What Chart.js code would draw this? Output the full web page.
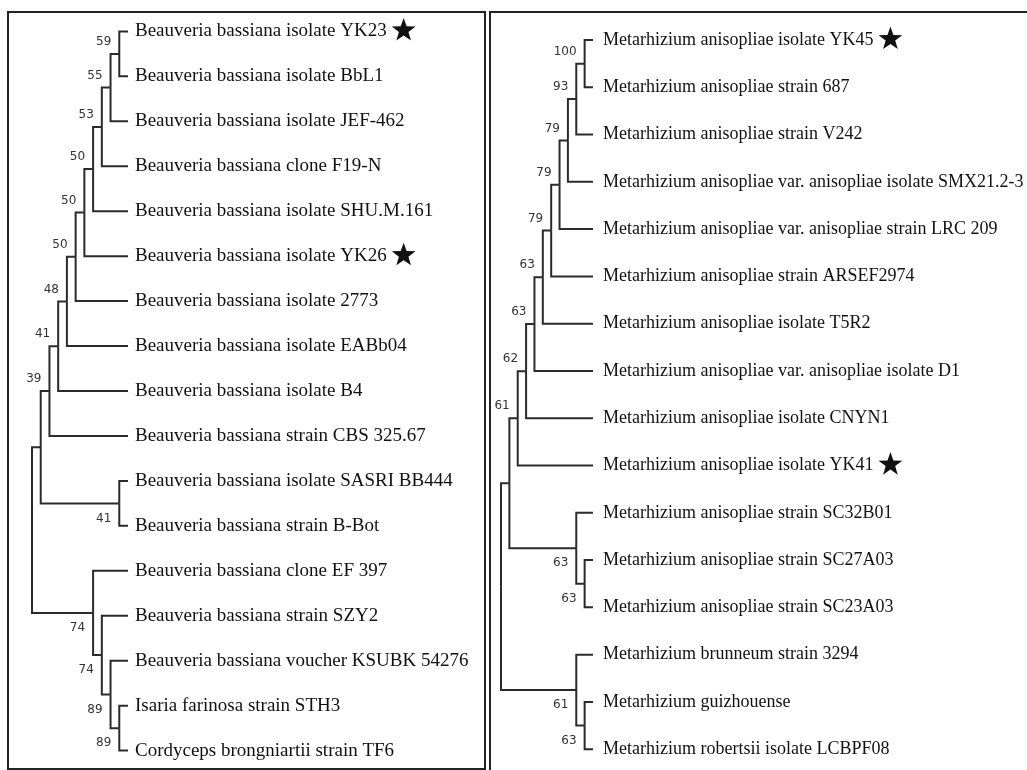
<!doctype html>
<html lang="en">
<head>
<meta charset="utf-8">
<script src="https://cdn.jsdelivr.net/npm/chart.js"></script>
<style>
  body { margin: 0; background: #fff; overflow: hidden; }
  .panel { position: absolute; box-sizing: border-box; border: 2px solid #222; }
  canvas { position: absolute; }
</style>
</head>
<body>
<div class="panel" style="left:7px;top:11px;width:479px;height:759px"></div>
<div class="panel" style="left:489px;top:11px;width:600px;height:800px"></div>
<canvas id="leftTree" width="475" height="756" style="left:9px;top:13px"></canvas>
<canvas id="rightTree" width="536" height="757" style="left:491px;top:13px"></canvas>

<script>
  // taxa, top to bottom
  const beauveriaLeaves = [
    'Beauveria bassiana isolate YK23',
    'Beauveria bassiana isolate BbL1',
    'Beauveria bassiana isolate JEF-462',
    'Beauveria bassiana clone F19-N',
    'Beauveria bassiana isolate SHU.M.161',
    'Beauveria bassiana isolate YK26',
    'Beauveria bassiana isolate 2773',
    'Beauveria bassiana isolate EABb04',
    'Beauveria bassiana isolate B4',
    'Beauveria bassiana strain CBS 325.67',
    'Beauveria bassiana isolate SASRI BB444',
    'Beauveria bassiana strain B-Bot',
    'Beauveria bassiana clone EF 397',
    'Beauveria bassiana strain SZY2',
    'Beauveria bassiana voucher KSUBK 54276',
    'Isaria farinosa strain STH3',
    'Cordyceps brongniartii strain TF6'
  ];
  const beauveriaStarred = [0, 5];
  // topology with bootstrap values (leaf = index into the list above)
  const beauveriaNewick = '(((((((((((0,1)59,2)55,3)53,4)50,5)50,6)50,7)48,8)41,9)39,(10,11)41),(12,(13,(14,(15,16)89)89)74)74)';

  const metarhiziumLeaves = [
    'Metarhizium anisopliae isolate YK45',
    'Metarhizium anisopliae strain 687',
    'Metarhizium anisopliae strain V242',
    'Metarhizium anisopliae var. anisopliae isolate SMX21.2-3',
    'Metarhizium anisopliae var. anisopliae strain LRC 209',
    'Metarhizium anisopliae strain ARSEF2974',
    'Metarhizium anisopliae isolate T5R2',
    'Metarhizium anisopliae var. anisopliae isolate D1',
    'Metarhizium anisopliae isolate CNYN1',
    'Metarhizium anisopliae isolate YK41',
    'Metarhizium anisopliae strain SC32B01',
    'Metarhizium anisopliae strain SC27A03',
    'Metarhizium anisopliae strain SC23A03',
    'Metarhizium brunneum strain 3294',
    'Metarhizium guizhouense',
    'Metarhizium robertsii isolate LCBPF08'
  ];
  const metarhiziumStarred = [0, 9];
  const metarhiziumNewick = '(((((((((((0,1)100,2)93,3)79,4)79,5)79,6)63,7)63,8)62,9)61,(10,(11,12)63)63),(13,(14,15)63)61)';

  const LINE = '#2b2b2b';
  const SERIF = '"Liberation Serif", "Times New Roman", serif';
  const BOOT_FONT = '12px "DejaVu Sans", sans-serif';

  function parseNewick(s) {
    let i = 0;
    function node() {
      let n = {};
      if (s[i] === '(') {
        i++;
        n.kids = [node()];
        while (s[i] === ',') { i++; n.kids.push(node()); }
        i++; // closing paren
      }
      let tok = '';
      while (i < s.length && /[0-9]/.test(s[i])) tok += s[i++];
      if (n.kids) { if (tok) n.boot = tok; } else n.leaf = +tok;
      return n;
    }
    return node();
  }

  // cladogram: x = -(height above leaves), y = midpoint of outer children
  function layout(n) {
    if (!n.kids) { n.h = 0; n.y = n.leaf; return; }
    n.kids.forEach(layout);
    n.h = 1 + Math.max(...n.kids.map(k => k.h));
    n.y = (n.kids[0].y + n.kids[n.kids.length - 1].y) / 2;
  }

  function collect(n, segs, boots, side) {
    if (!n.kids) return;
    if (n.boot) boots.push({ x: -n.h, y: n.y, text: n.boot, below: side > 0 });
    n.kids.forEach((k, idx) => {
      segs.push([{ x: -n.h, y: n.y }, { x: -n.h, y: k.y }, { x: -k.h, y: k.y }]);
      collect(k, segs, boots, idx);
    });
  }

  function drawStar(ctx, cx, cy, R, r) {
    ctx.beginPath();
    for (let k = 0; k < 10; k++) {
      const a = -Math.PI / 2 + k * Math.PI / 5;
      const rad = k % 2 ? r : R;
      ctx.lineTo(cx + rad * Math.cos(a), cy + rad * Math.sin(a));
    }
    ctx.closePath();
    ctx.fill();
  }

  function makeTree(canvasId, leaves, newick, starred, pad, axisWidth, fontSize, tickPad) {
    const root = parseNewick(newick);
    layout(root);
    const segs = [], boots = [];
    collect(root, segs, boots, 0);

    const datasets = segs.map(pts => ({
      data: pts,
      showLine: true,
      borderColor: LINE,
      borderWidth: 2,
      pointRadius: 0,
      clip: false
    }));

    const annotate = {
      id: 'annotate',
      afterDatasetsDraw(chart) {
        const ctx = chart.ctx, xs = chart.scales.x, ys = chart.scales.y;
        ctx.save();
        ctx.font = BOOT_FONT;
        ctx.fillStyle = '#333';
        ctx.textAlign = 'right';
        ctx.textBaseline = 'middle';
        boots.forEach(b => {
          const px = xs.getPixelForValue(b.x), py = ys.getPixelForValue(b.y);
          ctx.fillText(b.text, px - 8, b.below ? py + 15 : py - 12);
        });
        ctx.restore();
      },
      afterDraw(chart) {
        const ctx = chart.ctx, ys = chart.scales.y;
        ctx.save();
        ctx.font = fontSize + 'px ' + SERIF;
        ctx.fillStyle = '#111';
        starred.forEach(i => {
          const w = ctx.measureText(leaves[i]).width;
          const x = chart.chartArea.right + tickPad + w + 17;
          drawStar(ctx, x, ys.getPixelForValue(i) - 1, 12.5, 5);
        });
        ctx.restore();
      }
    };

    return new Chart(document.getElementById(canvasId), {
      type: 'scatter',
      data: { datasets },
      options: {
        responsive: false,
        animation: false,
        events: [],
        layout: { padding: pad },
        plugins: { legend: { display: false }, tooltip: { enabled: false } },
        scales: {
          x: { type: 'linear', display: false, min: -root.h, max: 0 },
          y: {
            type: 'linear',
            position: 'right',
            reverse: true,
            min: 0,
            max: leaves.length - 1,
            grid: { display: false, drawTicks: false },
            border: { display: false },
            afterFit(scale) { scale.width = axisWidth; },
            ticks: {
              stepSize: 1,
              autoSkip: false,
              maxTicksLimit: 100,
              padding: tickPad,
              color: '#111',
              font: { family: SERIF, size: fontSize },
              callback: v => leaves[v] ?? ''
            }
          }
        }
      },
      plugins: [annotate]
    });
  }

  makeTree('leftTree', beauveriaLeaves, beauveriaNewick, beauveriaStarred,
    { left: 23, top: 18, bottom: 14, right: 0 }, 356, 19, 7);
  makeTree('rightTree', metarhiziumLeaves, metarhiziumNewick, metarhiziumStarred,
    { left: 10, top: 27, bottom: 17, right: 0 }, 434, 18, 10);
</script>
</body>
</html>
